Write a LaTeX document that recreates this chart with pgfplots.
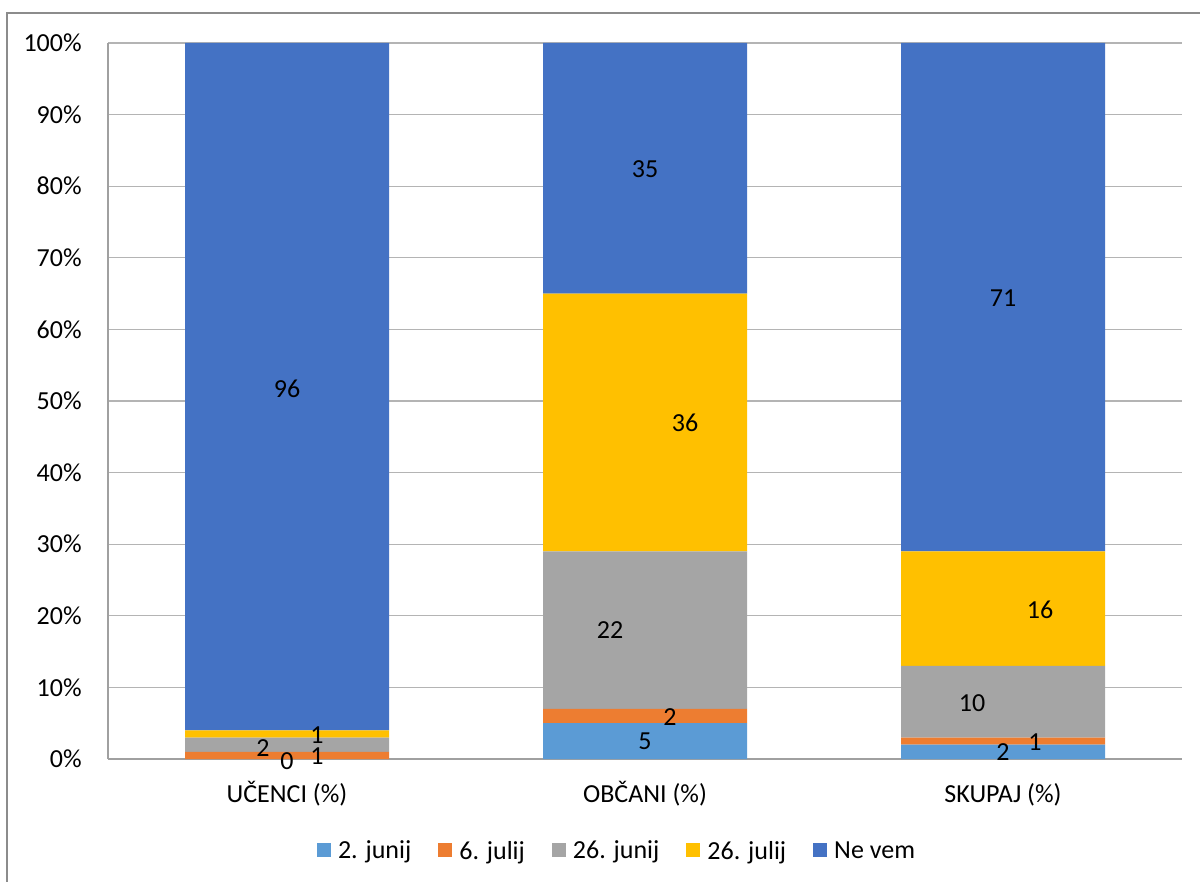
\documentclass[border=0pt]{standalone}
\usepackage{pgfplots}
\pgfplotsset{compat=1.18}
\usepackage{pgfplotstable}
\usepackage{fontspec}
\setmainfont{Carlito}

\definecolor{cA}{HTML}{5B9BD5}
\definecolor{cB}{HTML}{ED7D31}
\definecolor{cC}{HTML}{A5A5A5}
\definecolor{cD}{HTML}{FFC000}
\definecolor{cE}{HTML}{4472C4}
\definecolor{gridc}{HTML}{B4B4B4}
\definecolor{axisc}{HTML}{A0A0A0}
\definecolor{bordc}{HTML}{8C8C8C}

% columns: category index, value, label offset x (px), label offset y (px, down)
\pgfplotstableread{
x y dx dy
0 0 0 2
1 5 0 0.5
2 2 0 0
}\tJunijTwo
\pgfplotstableread{
x y dx dy
0 1 30 1
1 2 25 0.7
2 1 32 0.7
}\tJulijSix
\pgfplotstableread{
x y dx dy
0 2 -24 3
1 22 -35 0
2 10 -31 1.3
}\tJunijTwentySix
\pgfplotstableread{
x y dx dy
0 1 30 1
1 36 40 0.5
2 16 37 1.4
}\tJulijTwentySix
\pgfplotstableread{
x y dx dy
0 96 0 2
1 35 0 1
2 71 0 1
}\tNeVem

\begin{document}
\fontsize{15.6pt}{19pt}\selectfont
\begin{tikzpicture}
\path[use as bounding box] (0,0) rectangle (720pt,-529.2pt);
\draw[bordc, line width=0.8pt] (4.2pt,-540pt) -- (4.2pt,-7.8pt) -- (730pt,-7.8pt);
\begin{axis}[
  at={(64.8pt,-455.4pt)}, anchor=south west,
  scale only axis, width=644.4pt, height=429.6pt,
  ybar stacked, bar width=122.4pt,
  xmin=-0.5, xmax=2.5, ymin=0, ymax=100,
  xtick={0,1,2},
  xticklabels={UČENCI (\%),OBČANI (\%),SKUPAJ (\%)},
  ytick={0,10,20,30,40,50,60,70,80,90,100},
  yticklabels={0\%,10\%,20\%,30\%,40\%,50\%,60\%,70\%,80\%,90\%,100\%},
  major tick length=0pt,
  axis lines*=left,
  axis line style={draw=axisc, line width=0.8pt},
  ymajorgrids, grid style={draw=gridc, line width=0.8pt},
  yticklabel style={anchor=east, inner sep=0pt, xshift=-15.6pt},
  xticklabel style={anchor=base, inner sep=0pt, yshift=-25.8pt},
  point meta=\thisrow{y},
  nodes near coords={\pgfmathprintnumber[assume math mode=true]{\pgfplotspointmeta}},
  visualization depends on={\thisrow{dx}\as\lblx},
  visualization depends on={\thisrow{dy}\as\lbly},
  every node near coord/.append style={anchor=center, inner sep=0pt, text=black,
     xshift={\lblx*0.6pt}, yshift={-\lbly*0.6pt}},
  legend columns=5,
  legend style={at={(0.1695,-0.1271)}, anchor=west, draw=none, fill=none,
     inner sep=0pt, outer sep=0pt, nodes={inner sep=0pt, text depth=0pt}, column sep=0pt},
  legend image code/.code={\path[draw=none,fill=none] (-16.2pt,0pt) -- (12.6pt,0pt); \fill[#1] (0pt,-4.2pt) rectangle (8.4pt,4.2pt);},
]
\addplot[fill=cA, draw=none] table[x=x, y=y] {\tJunijTwo};
\addplot[fill=cB, draw=none] table[x=x, y=y] {\tJulijSix};
\addplot[fill=cC, draw=none] table[x=x, y=y] {\tJunijTwentySix};
\addplot[fill=cD, draw=none] table[x=x, y=y] {\tJulijTwentySix};
\addplot[fill=cE, draw=none] table[x=x, y=y] {\tNeVem};
\legend{2. junij, 6. julij, 26. junij, 26. julij, Ne vem}
\coordinate (zerolbl) at (axis cs:0,0);
\end{axis}
% data label of the zero-height 2. junij segment (pgfplots skips labels of empty stacked bars)
\node[anchor=center, inner sep=0pt, text=black, yshift=-1.5pt] at (zerolbl) {0};
\end{tikzpicture}
\end{document}
